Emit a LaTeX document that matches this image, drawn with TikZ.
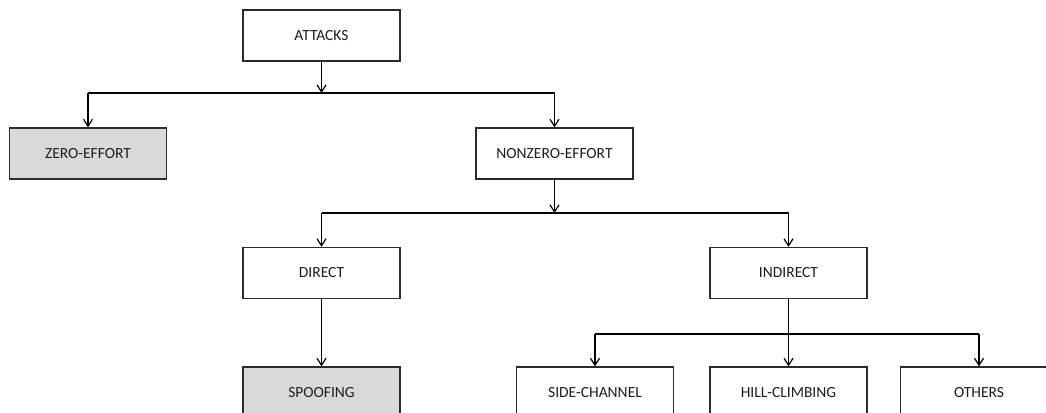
\documentclass[tikz,border=0pt]{standalone}
\usepackage{fontspec}
\setmainfont{Carlito}
\usetikzlibrary{arrows.meta,calc}
\definecolor{boxline}{HTML}{2B2B2B}
\definecolor{shade}{HTML}{D9D9D9}
\definecolor{label}{HTML}{1E1E1E}
\tikzset{
  box/.style={draw=boxline, line width=1.3pt, fill=white, minimum width=157pt,
    minimum height=51pt, inner sep=0pt, font=\fontsize{15.5}{18}\selectfont,
    text=label, anchor=center},
  leaf/.style={box, fill=shade},
  arr/.style={draw=black, line width=1.3pt,
    -{Straight Barb[length=7pt,width=9pt,line width=1.2pt]}},
  bar/.style={draw=black, line width=2.2pt}
}
\begin{document}
\begin{tikzpicture}[x=1pt,y=1pt]
\useasboundingbox (0,0) rectangle (1046,-412);

% tree nodes
\node[box]  (attacks)  at (321.5,-35.5) {ATTACKS};
\node[leaf] (zero)     at (88,-153.5)   {ZERO-EFFORT};
\node[box]  (nonzero)  at (554.5,-153.5) {NONZERO-EFFORT};
\node[box]  (direct)   at (321.5,-273)  {DIRECT};
\node[box]  (indirect) at (788.5,-273)  {INDIRECT};
\node[leaf] (spoof)    at (321.5,-392.5) {SPOOFING};
\node[box]  (side)     at (595,-392.5)  {SIDE-CHANNEL};
\node[box]  (hill)     at (788.5,-392.5) {HILL-CLIMBING};
\node[box]  (others)   at (979,-392.5)  {OTHERS};

% branch junctions
\coordinate (j1) at (321.5,-93);
\coordinate (j2) at (554.5,-213);
\coordinate (j3) at (788.5,-334);

% level 1
\draw[bar] (zero.north |- j1) -- (nonzero.north |- j1);
\draw[arr] (attacks.south) -- (j1);
\draw[arr] (zero.north |- j1) -- (zero.north);
\draw[arr] (nonzero.north |- j1) -- (nonzero.north);

% level 2
\draw[bar] (direct.north |- j2) -- (indirect.north |- j2);
\draw[arr] (nonzero.south) -- (j2);
\draw[arr] (direct.north |- j2) -- (direct.north);
\draw[arr] (indirect.north |- j2) -- (indirect.north);

% level 3
\draw[arr] (direct.south) -- (spoof.north);
\draw[bar] (side.north |- j3) -- (others.north |- j3);
\draw[arr] (indirect.south) -- (hill.north);
\draw[arr] (side.north |- j3) -- (side.north);
\draw[arr] (others.north |- j3) -- (others.north);
\end{tikzpicture}
\end{document}
